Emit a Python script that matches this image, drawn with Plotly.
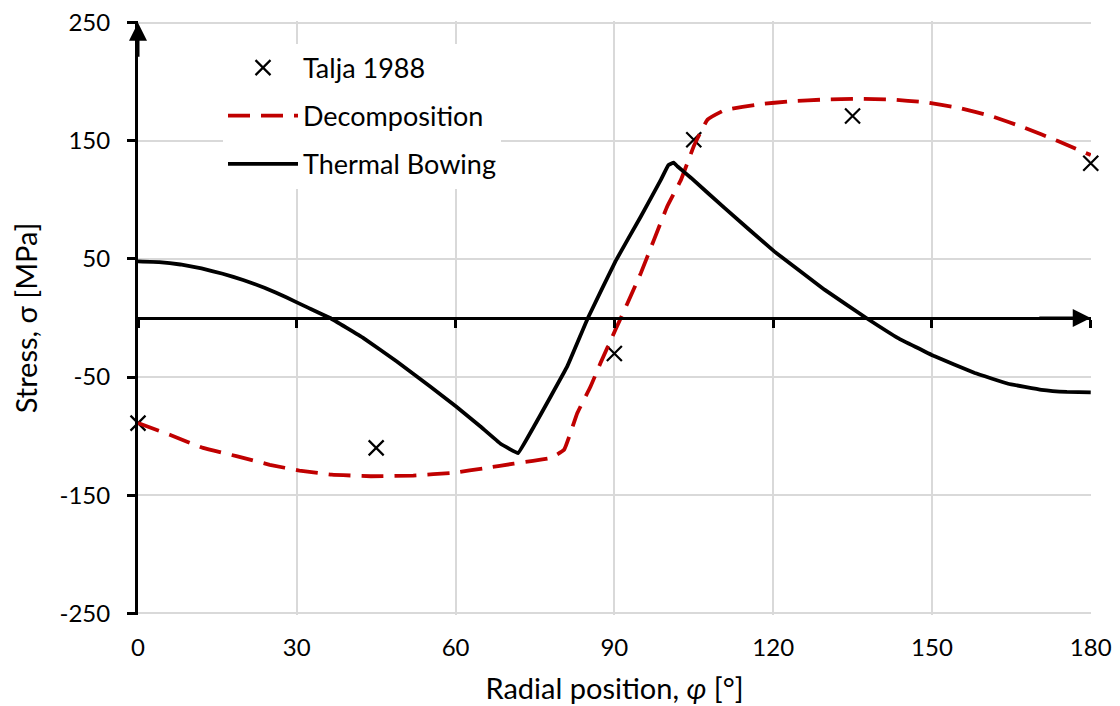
import plotly.graph_objects as go

# ---- data ----
talja_x = [0, 45, 90, 105, 135, 180]
talja_y = [-89, -110, -30, 151, 171, 131]

decomp_x = [0, 6, 12.3, 18.6, 24.9, 30.5, 36.6, 44, 52, 59.6, 65.7, 71, 77.9, 80.5, 83, 85.5,
            87.4, 90.2, 92.5, 95, 97.5, 100, 102.6, 105.1, 107.6, 110.8, 117.1, 123.4, 129.7,
            136, 142.3, 148.6, 155, 161.3, 167.6, 173.9, 180]
decomp_y = [-89, -98.9, -110, -117, -124.3, -129.2, -132.6, -134, -133.4, -131, -127, -123.3,
            -118.6, -111.6, -80.5, -58, -38, -10, 12.7, 38, 66.4, 94.6, 117.2, 146.5, 168, 176,
            180.8, 183.6, 185, 185.6, 185, 182.7, 178, 170.8, 161, 149.7, 138]

thermal_x = [0, 4, 8, 12, 16, 20, 24, 28, 32, 36.3, 42.6, 48.9, 55.2, 60.1,
             64.7, 68.5, 71.8, 74.8, 81.1, 85, 90.2, 95, 98.8, 100.2, 101.2, 101.9, 104.5,
             110.8, 120.2, 129.7, 137.6, 143.6, 150.3, 158.1, 164.4, 170.7, 175.5, 180]
thermal_y = [48, 47.4, 45.3, 42, 37.5, 32, 25.5, 17.5, 9, 0, -17, -36.8, -58, -74.9,
             -91.9, -106.5, -114.4, -91.9, -41, 0, 48, 86, 117.2, 129.5, 131.5, 128.5, 118.6,
             93.2, 56.4, 24, 0, -17, -32, -46.6, -55.7, -60.8, -62.6, -63]

x_ticks = [0, 30, 60, 90, 120, 150, 180]
y_ticks = [-250, -150, -50, 50, 150, 250]

FONT = "Lato"
GRID = "#d9d9d9"
Y_RANGE = [-251.5, 251.5]

fig = go.Figure()
fig.add_trace(go.Scatter(
    x=talja_x, y=talja_y, mode="markers", name="Talja 1988", legendgroup="a",
    cliponaxis=False,
    marker=dict(symbol="x-thin", size=15, line=dict(width=2.2, color="black"), color="black"),
))
fig.add_trace(go.Scatter(
    x=decomp_x, y=decomp_y, mode="lines", name="Decomposition", legendgroup="b",
    line=dict(color="#c00000", width=3.8, dash="22px,11px", shape="spline", smoothing=0.3),
))
fig.add_trace(go.Scatter(
    x=thermal_x, y=thermal_y, mode="lines", name="Thermal Bowing", legendgroup="c",
    line=dict(color="black", width=3.8, shape="spline", smoothing=0.2),
))
# invisible trace to host the zero-line x axis
fig.add_trace(go.Scatter(x=[0, 180], y=[0, 0], xaxis="x2", mode="lines",
                         line=dict(width=0), showlegend=False, hoverinfo="skip"))

fig.update_layout(
    width=1120, height=706,
    margin=dict(l=130, r=37, t=13, b=99),
    paper_bgcolor="white", plot_bgcolor="white",
    font=dict(family=FONT, size=24, color="black"),
    showlegend=True,
    legend=dict(
        x=85 / 953, y=0.962, xanchor="left", yanchor="top",
        bgcolor="white", font=dict(size=27, family=FONT),
        traceorder="grouped", tracegroupgap=10, itemwidth=70,
    ),
    xaxis=dict(
        range=[0, 180.05], tickvals=x_ticks, ticktext=[str(v) for v in x_ticks],
        showgrid=True, gridcolor=GRID, gridwidth=1.5, zeroline=False, showline=False,
        ticks="", ticklabelstandoff=16, tickfont=dict(size=24), automargin=False,
        ticklabeloverflow="allow",
        title=dict(text="Radial position, <i>φ</i> [°]", font=dict(size=29), standoff=18),
    ),
    xaxis2=dict(
        range=[0, 180.05], overlaying="x", anchor="free", position=0.5, side="bottom",
        tickvals=x_ticks, showticklabels=False, showgrid=False, zeroline=False,
        showline=True, linecolor="black", linewidth=3, automargin=False,
        ticks="outside", ticklen=8, tickwidth=3, tickcolor="black",
    ),
    yaxis=dict(
        range=Y_RANGE, tickvals=y_ticks, ticktext=[str(v) for v in y_ticks],
        showgrid=True, gridcolor=GRID, gridwidth=1.5, zeroline=False,
        showline=True, linecolor="black", linewidth=3, automargin=False,
        ticks="outside", ticklen=8, tickwidth=3, tickcolor="black",
        ticklabelstandoff=12, tickfont=dict(size=24), ticklabeloverflow="allow",
        title=dict(text="Stress, σ [MPa]", font=dict(size=29), standoff=14),
    ),
)

fig.add_annotation(x=180, y=0, ax=170, ay=0, xref="x", yref="y", axref="x", ayref="y",
                   text="", showarrow=True, arrowhead=2, arrowsize=1.2, arrowwidth=3,
                   arrowcolor="black", standoff=0)
fig.add_annotation(x=0, y=250, ax=0, ay=220, xref="x", yref="y", axref="x", ayref="y",
                   text="", showarrow=True, arrowhead=2, arrowsize=1.2, arrowwidth=3,
                   arrowcolor="black", standoff=0)

fig.write_html("out.html")
